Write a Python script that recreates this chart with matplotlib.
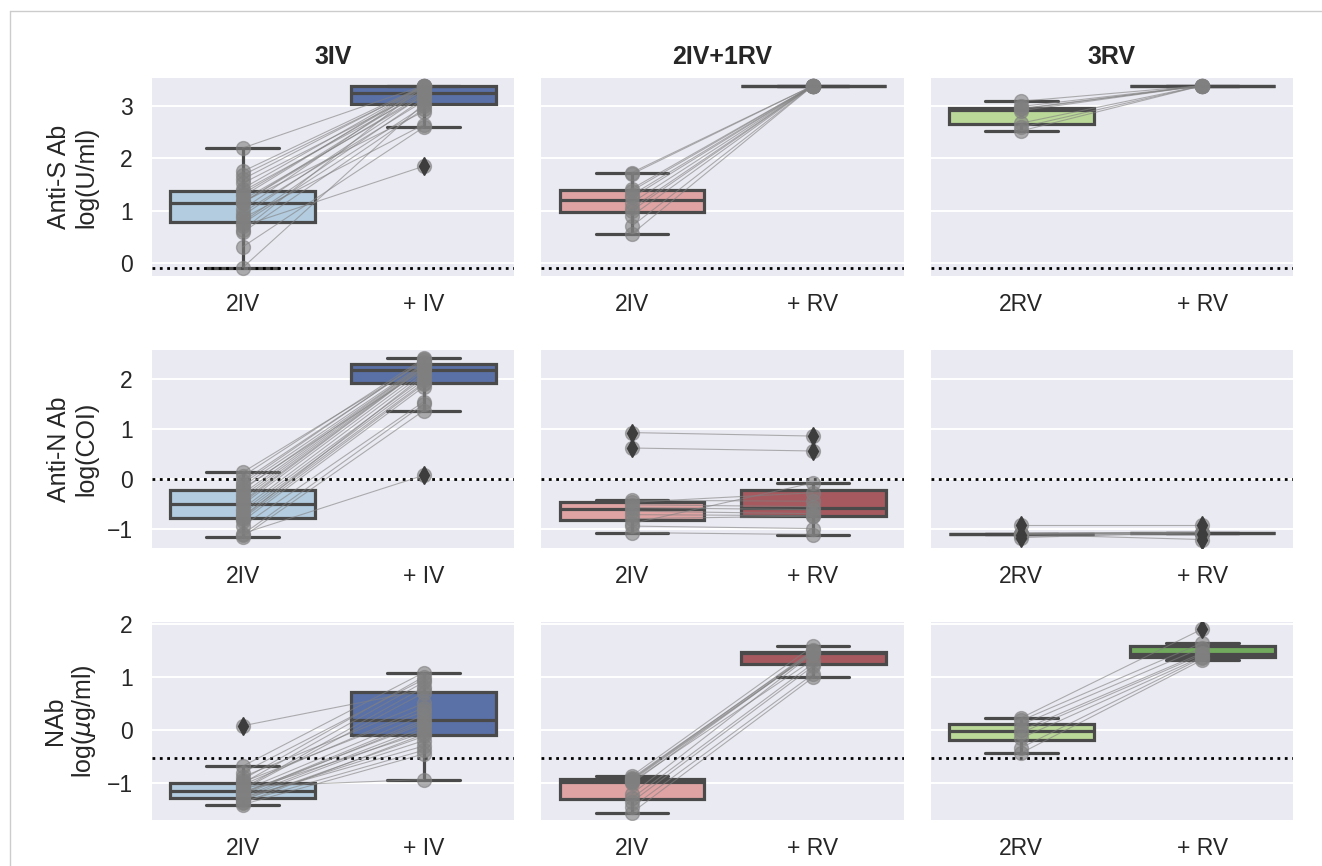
import matplotlib
matplotlib.use("Agg")
import matplotlib.pyplot as plt
import seaborn as sns
from matplotlib.lines import Line2D

# ---- data (log10 values, one entry per subject, paired pre/post) ----
groups = ["3IV", "2IV+1RV", "3RV"]
xlabels = [["2IV", "+ IV"], ["2IV", "+ RV"], ["2RV", "+ RV"]]
ylabels = ["Anti-S Ab\nlog(U/ml)", "Anti-N Ab\nlog(COI)", "NAb\nlog($\\mu$g/ml)"]
cutoffs = [-0.097, 0.0, -0.523]

# 3IV
s_3iv_pre = [2.2, 1.75, 1.68, 1.6, 1.52, 1.42, 1.37, 1.32, 1.27, 1.2, 1.16, 1.15,
             1.15, 1.02, 0.96, 0.9, 0.85, 0.78, 0.75, 0.7, 0.62, 0.58, 0.3, -0.1]
s_3iv_post = [3.4, 3.4, 3.38, 3.4, 3.3, 3.4, 3.26, 3.35, 3.4, 3.2, 2.9, 3.32,
              3.24, 3.4, 3.1, 3.22, 2.65, 3.15, 3.0, 1.85, 3.4, 2.95, 2.6, 3.05]
n_3iv_pre = [0.13, -0.3, -0.45, 0.05, -0.2, -0.6, -0.7, -0.1, -0.4, -0.52, -0.15, -0.8,
             -0.35, -0.05, -0.65, -0.48, -0.75, -0.22, -0.85, -1.1, -0.78, -0.95, -1.12, -1.17]
n_3iv_post = [2.35, 2.3, 2.25, 2.42, 2.2, 2.12, 1.98, 2.4, 2.26, 2.18, 2.32, 1.9,
              2.28, 2.38, 2.03, 2.24, 1.93, 2.3, 1.85, 0.07, 2.08, 1.55, 1.5, 1.37]
a_3iv_pre = [-0.68, -0.8, -0.88, -0.93, -1.0, 0.08, -1.03, -1.06, -1.1, -0.98, -1.12, -1.14,
             -1.16, -1.2, -1.18, -1.22, -1.25, -1.27, -1.28, -1.3, -1.32, -1.35, -1.37, -1.4]
a_3iv_post = [1.08, 0.95, 0.5, 1.0, 0.9, 0.75, 0.42, -0.93, 0.8, 0.35, 0.7, 0.28,
              -0.05, 0.2, 0.12, 0.16, 0.05, -0.3, 0.0, -0.2, -0.12, -0.38, -0.08, -0.45]

# 2IV+1RV
s_21_pre = [1.73, 1.7, 1.42, 1.38, 1.3, 1.25, 1.15, 1.05, 1.0, 0.9, 0.7, 0.55]
s_21_post = [3.4, 3.4, 3.4, 3.4, 3.4, 3.4, 3.4, 3.4, 3.4, 3.4, 3.4, 3.4]
n_21_pre = [0.93, 0.62, -0.43, -0.47, -0.52, -0.58, -0.65, -0.72, -0.8, -0.9, -0.95, -1.08]
n_21_post = [0.86, 0.56, -0.45, -0.28, -0.56, -0.62, -0.7, -0.74, -0.75, -0.08, -1.0, -1.12]
a_21_pre = [-0.86, -0.9, -0.92, -0.93, -0.95, -0.97, -1.0, -1.2, -1.28, -1.35, -1.45, -1.55]
a_21_post = [1.58, 1.48, 1.5, 1.46, 1.45, 1.32, 1.47, 1.44, 1.25, 1.2, 1.05, 0.99]

# 3RV
s_3rv_pre = [3.1, 3.0, 2.96, 2.95, 2.92, 2.68, 2.6, 2.53]
s_3rv_post = [3.4, 3.4, 3.4, 3.4, 3.4, 3.4, 3.4, 3.4]
n_3rv_pre = [-0.93, -1.1, -1.1, -1.1, -1.1, -1.1, -1.12, -1.18]
n_3rv_post = [-0.93, -1.08, -1.08, -1.1, -1.08, -1.08, -1.22, -1.08]
a_3rv_pre = [0.23, 0.18, 0.1, 0.0, -0.05, -0.15, -0.33, -0.43]
a_3rv_post = [1.9, 1.64, 1.55, 1.45, 1.42, 1.38, 1.36, 1.32]

data = [
    [(s_3iv_pre, s_3iv_post), (s_21_pre, s_21_post), (s_3rv_pre, s_3rv_post)],
    [(n_3iv_pre, n_3iv_post), (n_21_pre, n_21_post), (n_3rv_pre, n_3rv_post)],
    [(a_3iv_pre, a_3iv_post), (a_21_pre, a_21_post), (a_3rv_pre, a_3rv_post)],
]

colors = [("#b3cce0", "#5a71a8"), ("#e0a3a4", "#a65a60"), ("#bad897", "#71aa5c")]
ylims = [(-0.258, 3.546), (-1.39, 2.59), (-1.69, 2.03)]
yticks = [[0, 1, 2, 3], [-1, 0, 1, 2], [-1, 0, 1, 2]]

sns.set_style("darkgrid")
plt.rcParams["font.family"] = ["Liberation Sans", "DejaVu Sans"]
plt.rcParams["text.color"] = ".15"

fig, axes = plt.subplots(3, 3, figsize=(13.22, 8.66), dpi=100, sharey="row")
fig.subplots_adjust(left=152 / 1322, right=1293 / 1322, top=1 - 78 / 866,
                    bottom=1 - 820 / 866, wspace=0.075, hspace=0.374)

line_c = "#4a4a4a"
for r in range(3):
    for c in range(3):
        ax = axes[r, c]
        pre, post = data[r][c]
        bp = ax.boxplot([pre, post], positions=[0, 1], widths=0.8, patch_artist=True,
                        boxprops=dict(edgecolor=line_c, linewidth=2.3),
                        medianprops=dict(color=line_c, linewidth=2.3),
                        whiskerprops=dict(color=line_c, linewidth=2.3),
                        capprops=dict(color=line_c, linewidth=2.3),
                        flierprops=dict(marker="d", markerfacecolor="#3d3d3d",
                                        markeredgecolor="#3d3d3d", markersize=9),
                        zorder=2)
        for patch, col in zip(bp["boxes"], colors[c]):
            patch.set_facecolor(col)
        for fl in bp["fliers"]:
            fl.set_zorder(4)

        for y0, y1 in zip(pre, post):
            ax.plot([0, 1], [y0, y1], color="grey", lw=0.8, alpha=0.6, zorder=3)
        ax.plot([0] * len(pre), pre, "o", color="grey", ms=10, alpha=0.6, zorder=3)
        ax.plot([1] * len(post), post, "o", color="grey", ms=10, alpha=0.6, zorder=3)

        ax.axhline(cutoffs[r], color="black", ls=":", lw=2, zorder=2.5)

        ax.set_xlim(-0.5, 1.5)
        ax.set_ylim(*ylims[r])
        ax.set_yticks(yticks[r])
        ax.set_xticks([0, 1])
        ax.set_xticklabels(xlabels[c])
        ax.xaxis.grid(False)
        ax.yaxis.grid(True, color="white", lw=1.4)
        ax.tick_params(axis="x", labelsize=16.5, pad=12.5, length=0)
        ax.tick_params(axis="y", labelsize=16.5, pad=14, length=0)
        for sp in ax.spines.values():
            sp.set_visible(False)
        if r == 0:
            ax.set_title(groups[c], fontsize=18, fontweight="bold", pad=10)
        if c == 0:
            ax.set_ylabel(ylabels[r], fontsize=18, linespacing=1.15)
            ax.yaxis.set_label_coords(-0.149, 0.5)

# light screenshot frame
fig.add_artist(Line2D([9.5 / 1322, 9.5 / 1322], [0, 1 - 11 / 866], color="#cccccc", lw=1))
fig.add_artist(Line2D([9.5 / 1322, 1], [1 - 11 / 866, 1 - 11 / 866], color="#cccccc", lw=1))

fig.savefig("out.png", dpi=100)
